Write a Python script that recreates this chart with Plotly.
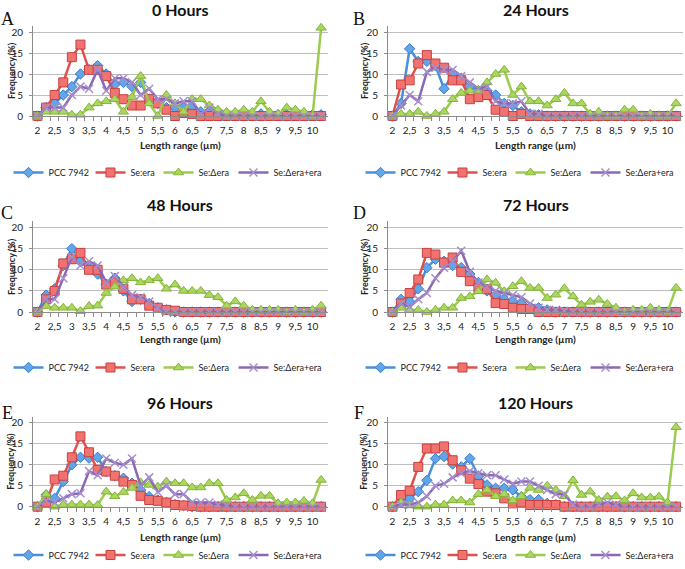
import plotly.graph_objects as go

# length classes (µm), category axis of every panel
length_bins = [2, 2.25, 2.5, 2.75, 3, 3.25, 3.5, 3.75, 4, 4.25, 4.5, 4.75,
               5, 5.25, 5.5, 5.75, 6, 6.25, 6.5, 6.75, 7, 7.25, 7.5, 7.75,
               8, 8.25, 8.5, 8.75, 9, 9.25, 9.5, 9.75, 10, 10.25]
tick_vals = [2, 2.5, 3, 3.5, 4, 4.5, 5, 5.5, 6, 6.5, 7, 7.5, 8, 8.5, 9, 9.5, 10]
tick_text = ["2", "2,5", "3", "3,5", "4", "4,5", "5", "5,5", "6", "6,5", "7",
             "7,5", "8", "8,5", "9", "9,5", "10"]

series_names = ["PCC 7942", "Se:era", "Se:Δera", "Se:Δera+era"]

# A - 0 hours
pcc_0h = [0, 2, 3, 5, 7, 10, 11, 12, 10, 7.5, 8, 7, 8, 4, 3, 2, 2, 2, 2, 1, 1, 0.5,
          0.5, 0.5, 0.5, 0.5, 0.5, 0.5, 0.3, 0.3, 0.3, 0.3, 0.3, 0.3]
era_0h = [0, 2, 5, 8, 14, 17, 11, 11, 9.5, 5.5, 4, 2.5, 2.5, 4, 3, 1.5, 0, 0.7, 0.5, 0,
          0, 0, 0, 0, 0, 0, 0, 0, 0, 0, 0, 0, 0, 0]
dera_0h = [0, 1, 1, 1, 0.3, 0.3, 2, 3, 3.5, 4, 1, 4.5, 9.5, 3, 0, 5, 3, 1, 4, 4, 2.5,
           1.5, 1, 1, 1.5, 1, 3.5, 1, 0.5, 2, 1.5, 1, 0, 21]
deraera_0h = [0, 2, 2, 2, 5, 7, 6.5, 11, 6, 9, 9, 8, 5, 6.5, 4, 4, 3, 3.5, 3.5, 0.5, 2,
              0.5, 0, 0, 0, 0, 0, 0, 0, 0, 0, 0, 0, 0]

# B - 24 hours
pcc_24h = [0, 3, 16, 13, 13, 12, 6.5, 10, 9, 7, 6, 6, 5, 3, 2.5, 1, 0.5, 0.3, 0, 0,
           0, 0, 0, 0, 0, 0, 0, 0, 0, 0, 0, 0, 0, 0]
era_24h = [0, 7.5, 8.5, 12.5, 14.5, 12.5, 11.5, 8.5, 8.5, 4, 4.5, 5, 1.5, 1, 0, 0.5,
           0, 0, 0, 0, 0, 0, 0, 0, 0, 0, 0, 0, 0, 0, 0, 0, 0, 0]
dera_24h = [0, 0.5, 0.5, 1, 0, 0.5, 1, 4, 5.5, 6, 6, 8, 10, 11, 5, 7, 3.5, 3.5, 2.5,
            4, 5.5, 3, 3, 0.5, 1, 0, 0, 1.5, 1.5, 0, 0.5, 0, 0, 3]
deraera_24h = [0, 2.5, 5, 3.5, 10.5, 11.5, 11, 11, 9.5, 8, 6.5, 7, 3.5, 3, 3, 3.5, 0.5,
               0.5, 0, 0, 0, 0, 0, 0, 0, 0, 0, 0, 0, 0, 0, 0, 0, 0]

# C - 48 hours
pcc_48h = [0, 4, 5.5, 11, 15, 12, 11, 9, 6.5, 8, 5, 2.5, 3, 2, 1, 0.5, 0, 0, 0, 0,
           0, 0, 0, 0, 0, 0, 0, 0, 0, 0, 0, 0, 0, 0]
era_48h = [0, 3, 5, 11.5, 12.5, 14, 10, 10, 6.5, 7, 5.5, 3, 3, 1.5, 1, 0.5, 0.3, 0,
           0, 0, 0, 0, 0, 0, 0, 0, 0, 0, 0, 0, 0, 0, 0, 0]
dera_48h = [0, 1.4, 1, 1, 1, 0.2, 1.4, 1.5, 4.5, 6, 7.5, 8, 7, 7.5, 8, 5.5, 6.5, 5,
            5, 5, 4, 3.5, 1.5, 2.5, 1.5, 0.5, 0.5, 0.5, 0.5, 0, 0.5, 0, 0.5, 1.5]
deraera_48h = [0, 3, 3, 8, 13, 11, 12, 11, 7, 8.5, 6, 4, 3.5, 2.5, 1, 0, 0, 0, 0, 0,
               0, 0, 0, 0, 0, 0, 0, 0, 0, 0, 0, 0, 0, 0]

# D - 72 hours
pcc_72h = [0, 3, 2.5, 5.5, 10.5, 12.5, 12, 11, 10.5, 9, 7, 5, 4, 3, 2.5, 2, 1, 1,
           0.5, 0, 0, 0, 0, 0, 0, 0, 0, 0, 0, 0, 0, 0, 0, 0]
era_72h = [0, 2, 4.5, 7.7, 14, 13.6, 11.7, 12.9, 9.5, 7.3, 5.6, 5.4, 2.1, 1.9, 1,
           0.7, 0.7, 0, 0, 0, 0, 0, 0, 0, 0, 0, 0, 0, 0, 0, 0, 0, 0, 0]
dera_72h = [0, 1, 0.5, 0.5, 0, 0.5, 1, 1, 3.3, 3.7, 4.9, 7.7, 6.9, 4.9, 6.1, 7.3, 5.7,
            5.7, 3.3, 4.1, 5.6, 3.7, 1.7, 2.4, 2.9, 1.9, 1, 0, 0.5, 0.5, 1, 0.5, 0, 5.7]
deraera_72h = [0, 2, 1.2, 3, 4.5, 8, 10.5, 12, 14.5, 9.5, 7, 6, 5, 4.5, 4, 3.5, 2, 1,
               0.5, 0.5, 0.3, 0, 0, 0, 0, 0, 0, 0, 0, 0, 0, 0, 0, 0]

# E - 96 hours
pcc_96h = [0, 2.8, 2, 6, 10, 11.8, 11.6, 11.8, 8.4, 7.4, 6.8, 5.6, 4, 2.4, 1.6, 1,
           0.5, 0.3, 0, 0, 0, 0, 0, 0, 0, 0, 0, 0, 0, 0, 0, 0, 0, 0]
era_96h = [0, 1, 6.5, 7.4, 11.8, 16.8, 13, 8.8, 8.4, 7.4, 6, 5.2, 2.6, 1.6, 1.4, 1,
           0.4, 0.3, 0.2, 0, 0, 0, 0, 0, 0, 0, 0, 0, 0, 0, 0, 0, 0, 0]
dera_96h = [0, 3, 0, 0.5, 0.5, 0.5, 0.5, 0.4, 3.6, 2.5, 3.5, 4.5, 5.8, 5.2, 4.8, 6,
            5.6, 5.6, 4.6, 4.6, 5.6, 5.6, 1.6, 2.2, 3.2, 1.6, 2.6, 2.6, 0.8, 1, 1,
            1.4, 0.8, 6.4]
deraera_96h = [0, 1.5, 1, 2, 3, 3.2, 8.5, 7.5, 11.5, 10.5, 10, 11.5, 5, 7, 3.5, 5, 3,
               3, 1, 1, 1, 0.5, 0.3, 0, 0, 0, 0, 0, 0, 0, 0, 0, 0, 0]

# F - 120 hours
pcc_120h = [0, 1, 2, 3.6, 6.3, 11.5, 12, 10.2, 9.5, 11.5, 7.3, 5.2, 4.4, 4.4, 4, 2.4,
            1.7, 1.7, 0.8, 0.5, 0, 0, 0, 0, 0, 0, 0, 0, 0, 0, 0, 0, 0, 0]
era_120h = [0, 2.8, 3.8, 9.5, 13.9, 13.9, 14.4, 11.1, 8.7, 6.7, 5.4, 3.6, 3.2, 2, 0.8,
            1, 0.4, 0.4, 0.4, 0.4, 0, 0, 0, 0, 0, 0, 0, 0, 0, 0, 0, 0, 0, 0]
dera_120h = [0, 1, 0.3, 0, 0, 0.5, 0.5, 1.5, 1.5, 1, 3, 4, 2.5, 3, 1.5, 2.5, 4.5, 4, 5,
             4, 2.5, 6.3, 2.8, 3.6, 1.6, 2.4, 2.5, 1.5, 3.2, 2.2, 2.2, 2.4, 1, 19]
deraera_120h = [0, 0.5, 0.5, 1, 2.5, 5, 5.5, 7, 8, 8.5, 8, 7.5, 7.5, 6.5, 5.5, 6, 6, 5,
                4, 3, 3, 0.5, 0, 0, 0.5, 1, 0.5, 0, 0, 0, 0, 0, 0, 0]

panels = [
    ("A", "0 Hours", [pcc_0h, era_0h, dera_0h, deraera_0h]),
    ("B", "24 Hours", [pcc_24h, era_24h, dera_24h, deraera_24h]),
    ("C", "48 Hours", [pcc_48h, era_48h, dera_48h, deraera_48h]),
    ("D", "72 Hours", [pcc_72h, era_72h, dera_72h, deraera_72h]),
    ("E", "96 Hours", [pcc_96h, era_96h, dera_96h, deraera_96h]),
    ("F", "120 Hours", [pcc_120h, era_120h, dera_120h, deraera_120h]),
]

# pixel geometry of the panels (left/right columns, three rows)
W, H = 685, 569
col_x = [(33, 328), (388, 683)]
row_y = [(25.7, 116), (221.2, 312), (416.7, 506.7)]   # top, zero line
title_y = [10, 205, 402]
letter_y = [19, 213, 413]
xtitle_y = [145, 339, 537]
legend_y = [172.5, 367.5, 555]
legend_cx = [168, 520]

styles = [
    dict(line=dict(color="#4a8fd9", width=2.5), legendwidth=37,
         marker=dict(symbol="diamond", size=8, color="#62a6ea",
                     line=dict(color="#3b7cc9", width=1))),
    dict(line=dict(color="#e0504d", width=2.5), legendwidth=23,
         marker=dict(symbol="square", size=9, color="#f07370",
                     line=dict(color="#c9403d", width=1))),
    dict(line=dict(color="#9bcb4f", width=2.5), legendwidth=30,
         marker=dict(symbol="triangle-up", size=9, color="#aad75f",
                     line=dict(color="#86b33b", width=1))),
    dict(line=dict(color="#8a68b3", width=2.5), legendwidth=None,
         marker=dict(symbol="x-thin", size=8, color="#a68fcc",
                     line=dict(color="#a68fcc", width=1.5))),
]

FONT = "Lato, 'Open Sans', sans-serif"
fig = go.Figure()
annotations = []
layout = {}


def label(text, px, py, size, family=FONT, angle=0, color="#222"):
    return dict(text=text, x=px / W, y=1 - py / H, xref="paper", yref="paper",
                xanchor="center", yanchor="middle", showarrow=False,
                textangle=angle, font=dict(family=family, size=size, color=color))


for i, (letter, title, series) in enumerate(panels):
    r, c = divmod(i, 2)
    n = "" if i == 0 else str(i + 1)
    x0, x1 = col_x[c]
    top, zero = row_y[r]
    leg = "legend" + n
    for name, vals, st in zip(series_names, series, styles):
        fig.add_trace(go.Scatter(
            x=length_bins, y=vals, name=name, mode="lines+markers",
            xaxis="x" + n, yaxis="y" + n, legend=leg, cliponaxis=False,
            legendwidth=st["legendwidth"], line=st["line"], marker=st["marker"]))

    layout["xaxis" + n] = dict(
        domain=[x0 / W, x1 / W], anchor="y" + n, range=[1.87, 10.45],
        tickvals=tick_vals, ticktext=tick_text, ticks="", showgrid=False,
        zeroline=False, showline=True, linecolor="#8c8c8c", linewidth=1,
        tickfont=dict(family=FONT, size=10, color="#222"), ticklabelstandoff=5,
        minor=dict(ticks="outside", ticklen=4, tick0=2.125, dtick=0.25,
                   tickcolor="#8c8c8c", showgrid=False))
    layout["yaxis" + n] = dict(
        domain=[1 - zero / H, 1 - top / H], anchor="x" + n, range=[0, 21.5],
        tickvals=[0, 5, 10, 15, 20], showgrid=True, gridcolor="#bdbdbd",
        zeroline=False, showline=True, linecolor="#8c8c8c", ticks="outside",
        ticklen=3, tickcolor="#8c8c8c", ticklabelstandoff=4,
        tickfont=dict(family=FONT, size=10, color="#222"))
    layout[leg] = dict(
        orientation="h", x=legend_cx[c] / W, xanchor="center",
        y=1 - legend_y[r] / H, yanchor="middle", itemwidth=30,
        font=dict(family=FONT, size=9, color="#222"),
        bgcolor="rgba(0,0,0,0)", borderwidth=0)

    cx = (x0 + x1) / 2
    annotations += [
        label("<b>" + title + "</b>", cx, title_y[r], 16, color="#111"),
        label(letter, 7 + c * 352, letter_y[r], 18,
              family="Liberation Serif, serif", color="#111"),
        label("<b>Frequency (%)</b>", 11 + c * 353, zero - 45, 9, angle=-90),
        label("<b>Length range (µm)</b>", cx, xtitle_y[r], 10),
    ]

fig.update_layout(
    width=W, height=H, margin=dict(l=0, r=0, t=0, b=0, autoexpand=False),
    paper_bgcolor="white", plot_bgcolor="white",
    annotations=annotations, **layout)

fig.write_html("out.html", config={"displayModeBar": False},
               post_script="document.body.style.margin='0';")
